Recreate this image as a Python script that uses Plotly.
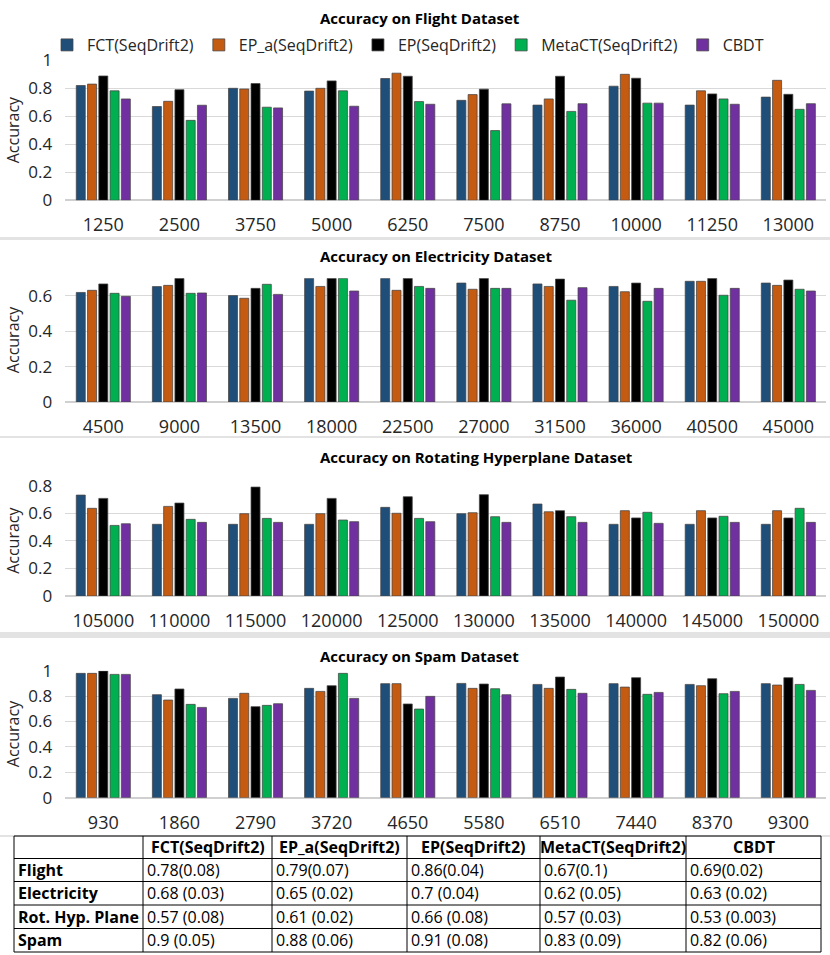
import plotly.graph_objects as go

W, H = 830, 955
FONT = "Open Sans"

series_names = ["FCT(SeqDrift2)", "EP_a(SeqDrift2)", "EP(SeqDrift2)", "MetaCT(SeqDrift2)", "CBDT"]
series_colors = ["#1F4E79", "#C55A11", "#000000", "#00B050", "#7030A0"]

# ---- Flight ----
flight_x = ["1250", "2500", "3750", "5000", "6250", "7500", "8750", "10000", "11250", "13000"]
flight_fct = [0.82, 0.67, 0.80, 0.78, 0.87, 0.714, 0.68, 0.815, 0.68, 0.737]
flight_epa = [0.83, 0.707, 0.795, 0.80, 0.908, 0.755, 0.724, 0.90, 0.782, 0.857]
flight_ep = [0.888, 0.79, 0.834, 0.853, 0.886, 0.794, 0.886, 0.872, 0.76, 0.757]
flight_meta = [0.782, 0.571, 0.665, 0.782, 0.705, 0.498, 0.635, 0.694, 0.724, 0.65]
flight_cbdt = [0.724, 0.679, 0.66, 0.672, 0.686, 0.689, 0.69, 0.694, 0.686, 0.69]

# ---- Electricity ----
elec_x = ["4500", "9000", "13500", "18000", "22500", "27000", "31500", "36000", "40500", "45000"]
elec_fct = [0.62, 0.653, 0.602, 0.70, 0.70, 0.673, 0.668, 0.654, 0.683, 0.673]
elec_epa = [0.632, 0.66, 0.587, 0.654, 0.632, 0.638, 0.654, 0.624, 0.683, 0.66]
elec_ep = [0.668, 0.70, 0.643, 0.70, 0.70, 0.70, 0.696, 0.673, 0.70, 0.69]
elec_meta = [0.615, 0.615, 0.666, 0.70, 0.654, 0.643, 0.576, 0.57, 0.604, 0.638]
elec_cbdt = [0.598, 0.617, 0.609, 0.628, 0.643, 0.643, 0.647, 0.643, 0.643, 0.628]

# ---- Rotating Hyperplane ----
rot_x = ["105000", "110000", "115000", "120000", "125000", "130000", "135000", "140000", "145000", "150000"]
rot_fct = [0.732, 0.52, 0.52, 0.52, 0.643, 0.597, 0.667, 0.52, 0.52, 0.52]
rot_epa = [0.636, 0.65, 0.597, 0.597, 0.60, 0.604, 0.611, 0.619, 0.619, 0.619]
rot_ep = [0.708, 0.674, 0.79, 0.708, 0.72, 0.735, 0.619, 0.566, 0.566, 0.566]
rot_meta = [0.512, 0.556, 0.563, 0.551, 0.563, 0.575, 0.575, 0.607, 0.578, 0.636]
rot_cbdt = [0.524, 0.534, 0.534, 0.539, 0.539, 0.534, 0.534, 0.527, 0.534, 0.534]

# ---- Spam ----
spam_x = ["930", "1860", "2790", "3720", "4650", "5580", "6510", "7440", "8370", "9300"]
spam_fct = [0.979, 0.811, 0.782, 0.861, 0.898, 0.90, 0.892, 0.898, 0.892, 0.898]
spam_epa = [0.979, 0.769, 0.822, 0.837, 0.898, 0.861, 0.861, 0.871, 0.882, 0.887]
spam_ep = [0.997, 0.856, 0.717, 0.882, 0.738, 0.895, 0.95, 0.945, 0.937, 0.945]
spam_meta = [0.971, 0.735, 0.727, 0.979, 0.698, 0.858, 0.853, 0.814, 0.819, 0.892]
spam_cbdt = [0.971, 0.711, 0.74, 0.782, 0.798, 0.811, 0.822, 0.829, 0.837, 0.845]

# ---- Summary table ----
table_header = ["", "FCT(SeqDrift2)", "EP_a(SeqDrift2)", "EP(SeqDrift2)", "MetaCT(SeqDrift2)", "CBDT"]
table_rows = ["Flight", "Electricity", "Rot. Hyp. Plane", "Spam"]
table_fct = ["0.78(0.08)", "0.68 (0.03)", "0.57 (0.08)", "0.9 (0.05)"]
table_epa = ["0.79(0.07)", "0.65 (0.02)", "0.61 (0.02)", "0.88 (0.06)"]
table_ep = ["0.86(0.04)", "0.7 (0.04)", "0.66 (0.08)", "0.91 (0.08)"]
table_meta = ["0.67(0.1)", "0.62 (0.05)", "0.57 (0.03)", "0.83 (0.09)"]
table_cbdt = ["0.69(0.02)", "0.63 (0.02)", "0.53 (0.003)", "0.82 (0.06)"]

panels = [
    ("Accuracy on Flight Dataset", flight_x, [flight_fct, flight_epa, flight_ep, flight_meta, flight_cbdt], 1.0, (60.3, 200.3), 18),
    ("Accuracy on Electricity Dataset", elec_x, [elec_fct, elec_epa, elec_ep, elec_meta, elec_cbdt], 0.7, (278.3, 402.0), 256),
    ("Accuracy on Rotating Hyperplane Dataset", rot_x, [rot_fct, rot_epa, rot_ep, rot_meta, rot_cbdt], 0.8, (485.7, 596.0), 457),
    ("Accuracy on Spam Dataset", spam_x, [spam_fct, spam_epa, spam_ep, spam_meta, spam_cbdt], 1.0, (670.7, 797.7), 656),
]


def px_x(p):
    return p / W


def px_y(p):
    return 1 - p / H


fig = go.Figure()
layout = dict(
    width=W, height=H, autosize=False,
    margin=dict(l=0, r=0, t=0, b=0, pad=0, autoexpand=False),
    paper_bgcolor="white", plot_bgcolor="white",
    barmode="group", bargap=0.26, bargroupgap=0.2,
    font=dict(family=FONT, color="#262626"),
    showlegend=True,
    legend=dict(orientation="h", x=px_x(47), xanchor="left", y=px_y(45), yanchor="middle",
                font=dict(family=FONT, size=16, color="#262626"),
                bgcolor="rgba(0,0,0,0)", itemwidth=30, tracegroupgap=0),
)
annotations = []
shapes = []
x_dom = [px_x(65.25), px_x(826.4)]

for i, (title, cats, vals, ymax, (ytop, ybot), ty) in enumerate(panels):
    k = "" if i == 0 else str(i + 1)
    for j, (name, color, v) in enumerate(zip(series_names, series_colors, vals)):
        fig.add_trace(go.Bar(
            x=cats, y=v, name=name, xaxis="x" + k, yaxis="y" + k,
            marker=dict(color=color, line=dict(color="rgba(70,70,70,0.75)", width=1)),
            showlegend=(i == 0), legendgroup=name,
        ))
    layout["xaxis" + k] = dict(domain=x_dom, anchor="y" + k, type="category",
                               showgrid=False, showline=False, ticks="", automargin=False,
                               tickfont=dict(family=FONT, size=18, color="#262626"),
                               ticklabelstandoff=12, fixedrange=True)
    layout["yaxis" + k] = dict(domain=[px_y(ybot), px_y(ytop)], anchor="x" + k,
                               range=[0, ymax], dtick=0.2, tick0=0, automargin=False,
                               showgrid=True, gridcolor="#D9D9D9", gridwidth=1,
                               zeroline=True, zerolinecolor="#D0D0D0", zerolinewidth=1.5,
                               showline=False, ticks="",
                               tickfont=dict(family=FONT, size=17, color="#262626"),
                               ticklabelstandoff=12, fixedrange=True)
    annotations.append(dict(text="<b>" + title + "</b>", x=px_x(318), y=px_y(ty), xref="paper", yref="paper",
                            xanchor="left", yanchor="middle", showarrow=False,
                            font=dict(family=FONT, size=15, color="#000000")))
    annotations.append(dict(text="Accuracy", x=px_x(13), y=px_y((ytop + ybot) / 2), xref="paper", yref="paper",
                            xanchor="center", yanchor="middle", textangle=-90, showarrow=False,
                            font=dict(family=FONT, size=16, color="#262626")))

# light grey borders between the chart images
for (y0, y1) in [(237, 240), (436, 438), (632, 638), (835, 837)]:
    shapes.append(dict(type="rect", xref="paper", yref="paper", x0=0, x1=1, y0=px_y(y1), y1=px_y(y0),
                       fillcolor="#E3E3E3", line=dict(width=0), layer="below"))

# ---- summary table drawn as a grid of real text ----
col_edges = [14, 143, 272, 407, 540, 686, 821]
row_edges = [836, 858.5, 881.5, 905, 928.5, 952]
for xe in col_edges:
    shapes.append(dict(type="line", xref="paper", yref="paper", x0=px_x(xe), x1=px_x(xe),
                       y0=px_y(row_edges[0]), y1=px_y(row_edges[-1]), line=dict(color="black", width=1)))
for ye in row_edges:
    shapes.append(dict(type="line", xref="paper", yref="paper", x0=px_x(col_edges[0]), x1=px_x(col_edges[-1]),
                       y0=px_y(ye), y1=px_y(ye), line=dict(color="black", width=1)))

for c, h in enumerate(table_header):
    if not h:
        continue
    annotations.append(dict(text="<b>" + h + "</b>", xref="paper", yref="paper",
                            x=px_x((col_edges[c] + col_edges[c + 1]) / 2),
                            y=px_y((row_edges[0] + row_edges[1]) / 2),
                            xanchor="center", yanchor="middle", showarrow=False,
                            font=dict(family=FONT, size=16, color="black")))

columns = [table_rows, table_fct, table_epa, table_ep, table_meta, table_cbdt]
for c, col in enumerate(columns):
    for r, txt in enumerate(col):
        annotations.append(dict(text=("<b>" + txt + "</b>") if c == 0 else txt, xref="paper", yref="paper",
                                x=px_x(col_edges[c] + 2), y=px_y((row_edges[r + 1] + row_edges[r + 2]) / 2),
                                xanchor="left", yanchor="middle", showarrow=False,
                                font=dict(family=FONT, size=16, color="black")))

layout["annotations"] = annotations
layout["shapes"] = shapes
fig.update_layout(**layout)
fig.write_html("out.html", config={"displayModeBar": False},
               post_script="document.body.style.margin='0';document.body.style.padding='0';document.body.style.overflow='hidden';")
